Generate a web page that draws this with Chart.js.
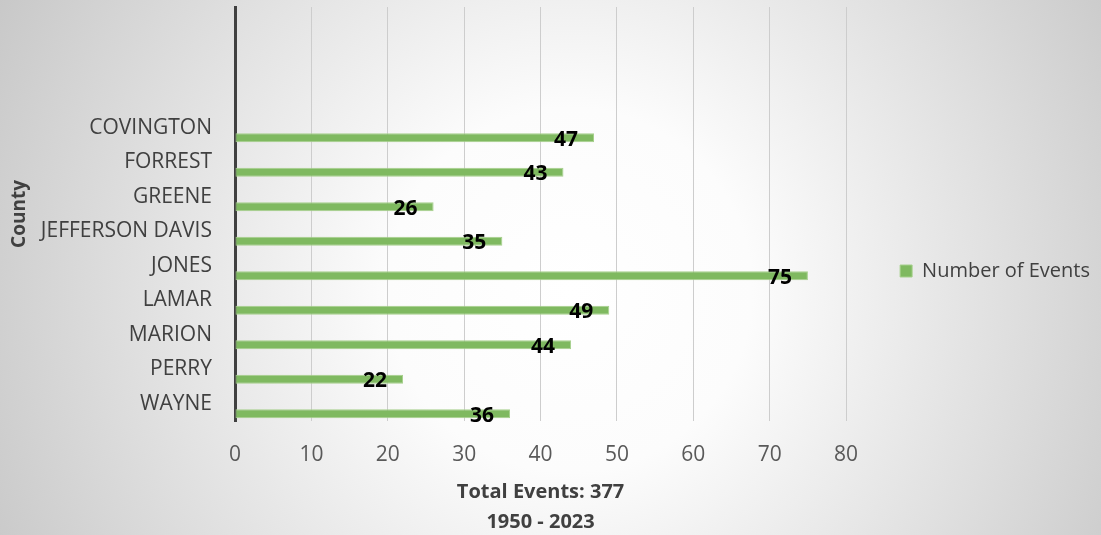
<!DOCTYPE html>
<html>
<head>
<meta charset="utf-8">
<title>Number of Events by County</title>
<script src="https://cdn.jsdelivr.net/npm/chart.js@4.4.1/dist/chart.umd.min.js"></script>
<style>
  html, body { margin: 0; padding: 0; }
  body {
    width: 1101px;
    height: 535px;
    overflow: hidden;
    background: radial-gradient(circle 650px at 570px 290px, #ffffff 0%, #fcfcfc 28%, #c7c7c7 100%);
  }
  #wrap { position: relative; width: 1101px; height: 535px; }
</style>
</head>
<body>
<div id="wrap"><canvas id="chart"></canvas></div>
<script>
// counties, top to bottom
const counties = ['COVINGTON', 'FORREST', 'GREENE', 'JEFFERSON DAVIS', 'JONES', 'LAMAR', 'MARION', 'PERRY', 'WAYNE'];
const events = [47, 43, 26, 35, 75, 49, 44, 22, 36];
// empty rows left above the first county
const blankRows = ['', '', ''];
const yearRange = '1950 - 2023';
const xMax = 80;
const xStep = 10;

const total = events.reduce((a, b) => a + b, 0);
const labels = blankRows.concat(counties);
const padded = blankRows.map(() => null).concat(events);

Chart.defaults.font.family = '"Open Sans", sans-serif';
Chart.defaults.font.size = 21;
Chart.defaults.color = '#404040';

// number drawn near the end of each bar
const valueLabels = {
  id: 'valueLabels',
  afterDatasetsDraw(chart) {
    const meta = chart.getDatasetMeta(1);
    const data = chart.data.datasets[1].data;
    const ctx = chart.ctx;
    ctx.save();
    ctx.font = 'bold 21px "Open Sans", sans-serif';
    ctx.fillStyle = '#000000';
    ctx.textAlign = 'right';
    ctx.textBaseline = 'middle';
    meta.data.forEach((bar, i) => {
      if (data[i] === null) return;
      ctx.fillText(String(data[i]), bar.x - 16, bar.y + 2);
    });
    ctx.restore();
  }
};

// fixed axis sizes, no extra room for half-labels at the axis ends
const fitX = (scale) => {
  scale.paddingLeft = 0;
  scale.paddingRight = 0;
  scale.height = 114;
};
const fitY = (scale) => {
  scale.paddingTop = 0;
  scale.paddingBottom = 0;
  scale.width = 235;
};

new Chart(document.getElementById('chart'), {
  type: 'bar',
  data: {
    labels: labels,
    datasets: [
      {
        // spacer series, keeps each bar in the lower half of its row
        label: '',
        data: labels.map(() => null),
        backgroundColor: 'rgba(0,0,0,0)',
      },
      {
        label: 'Number of Events',
        data: padded,
        backgroundColor: '#7fb960',
        borderColor: '#a6d08c',
        borderWidth: 1,
        borderSkipped: false,
        categoryPercentage: 1.16,
        barPercentage: 0.44,
      }
    ]
  },
  options: {
    indexAxis: 'y',
    responsive: true,
    maintainAspectRatio: false,
    animation: false,
    layout: { padding: { top: 7, left: 0, right: 1, bottom: 0 } },
    plugins: {
      legend: {
        position: 'right',
        labels: {
          boxWidth: 12,
          boxHeight: 12,
          color: '#404040',
          font: { size: 20 },
          padding: 54,
          filter: (item) => item.text !== '',
        },
      },
      tooltip: { enabled: false },
    },
    scales: {
      x: {
        min: 0,
        max: xMax,
        afterFit: fitX,
        ticks: { stepSize: xStep, color: '#595959', padding: 21 },
        grid: { color: '#cdcdcd', drawTicks: false },
        border: { display: false },
        title: {
          display: true,
          text: ['Total Events: ' + total, yearRange],
          color: '#404040',
          font: { weight: 'bold', size: 20, lineHeight: 1.5 },
          padding: { top: 0, bottom: -2 },
        },
      },
      y: {
        afterFit: fitY,
        ticks: { color: '#404040', padding: 23, autoSkip: false },
        grid: { display: false, drawTicks: false },
        border: { display: true, color: '#404040', width: 3 },
        title: {
          display: true,
          text: 'County',
          color: '#404040',
          font: { weight: 'bold', size: 19 },
          padding: { top: 8, bottom: 0 },
        },
      },
    },
  },
  plugins: [valueLabels],
});
</script>
</body>
</html>
